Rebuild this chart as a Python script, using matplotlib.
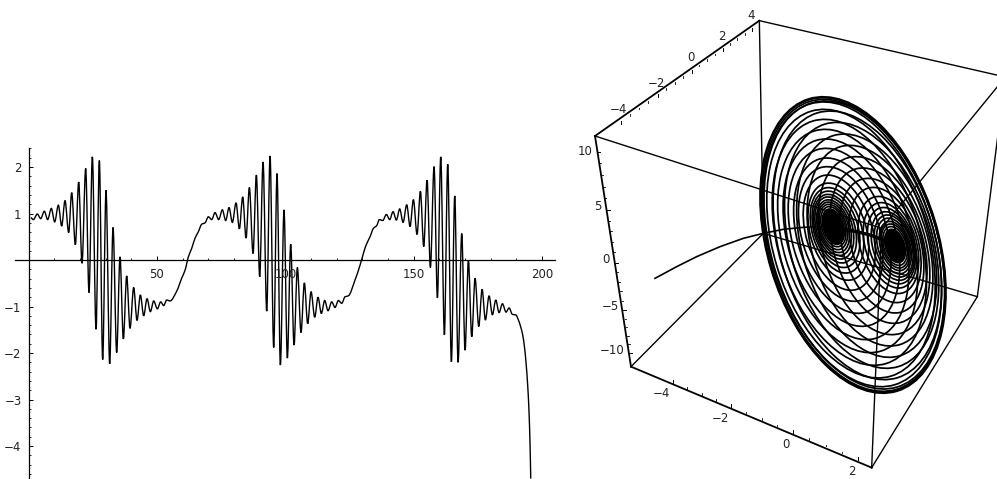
import numpy as np
import matplotlib
matplotlib.use("Agg")
import matplotlib.pyplot as plt
from matplotlib.patches import Ellipse, PathPatch
from matplotlib.path import Path

# --------------------------
# Left panel: time series, turning points
# --------------------------
t_vals = [0.84, 1.88, 3.44, 4.74, 6.17, 7.46, 8.89, 10.19, 11.62, 12.92, 14.21, 15.64, 16.81, 18.24, 19.54,
          20.83, 22.26, 23.56, 24.86, 26.29, 27.58, 28.88, 30.18, 31.61, 32.91, 34.33, 35.63, 36.93, 38.23,
          39.52, 40.95, 42.25, 43.55, 44.85, 46.15, 47.45, 48.75, 50.17, 51.47, 52.64, 53.80, 55.10, 57.70,
          59.65, 60.95, 62.25, 63.54, 64.84, 66.14, 67.44, 68.73, 70.03, 71.33, 72.63, 74.06, 75.48, 76.78,
          78.08, 79.38, 80.81, 82.10, 83.40, 84.70, 86.00, 87.43, 88.72, 90.02, 91.32, 92.75, 94.05, 95.47,
          96.77, 98.07, 99.49, 100.79, 102.09, 103.39, 104.69, 106.11, 107.41, 108.71, 110.01, 111.44, 112.73,
          114.03, 115.33, 116.63, 118.06, 119.35, 120.65, 121.95, 123.25, 124.55, 127.14, 129.09, 130.39,
          131.43, 132.98, 134.28, 135.58, 136.62, 137.92, 139.35, 140.64, 141.94, 143.24, 144.54, 145.84,
          147.27, 148.56, 149.86, 151.29, 152.59, 153.89, 155.18, 156.48, 157.91, 159.21, 160.51, 161.93,
          163.23, 164.66, 165.96, 167.26, 168.69, 169.98, 171.28, 172.58, 173.88, 175.31, 176.61, 177.90,
          179.33, 180.63, 181.93, 183.23, 184.52, 185.95, 187.12, 188.42, 189.72, 190.75, 192.31, 193.09,
          193.74, 194.39, 194.91, 195.30, 195.56]
y_vals = [0.91, 0.87, 0.99, 0.89, 1.05, 0.87, 1.11, 0.82, 1.18, 0.73, 1.28, 0.59, 1.45, 0.33, 1.68,
          -0.07, 1.97, -0.70, 2.22, -1.49, 2.14, -2.14, 1.50, -2.23, 0.70, -1.99, 0.07, -1.70, -0.34,
          -1.47, -0.59, -1.30, -0.75, -1.20, -0.83, -1.11, -0.88, -1.05, -0.90, -0.98, -0.86, -0.88, -0.67,
          -0.39, -0.22, 0.07, 0.25, 0.47, 0.61, 0.77, 0.80, 0.93, 0.87, 1.02, 0.87, 1.08, 0.85,
          1.13, 0.81, 1.23, 0.67, 1.36, 0.47, 1.56, 0.14, 1.83, -0.36, 2.11, -1.10, 2.24, -1.88,
          1.86, -2.26, 1.08, -2.11, 0.34, -1.83, -0.16, -1.56, -0.49, -1.37, -0.68, -1.23, -0.80,
          -1.15, -0.87, -1.09, -0.90, -1.02, -0.87, -0.93, -0.79, -0.77, -0.43, -0.11, 0.14,
          0.32, 0.50, 0.68, 0.74, 0.87, 0.85, 0.98, 0.87, 1.04, 0.86, 1.10, 0.81,
          1.19, 0.72, 1.30, 0.55, 1.48, 0.29, 1.72, -0.16, 2.01, -0.81, 2.22, -1.61,
          2.06, -2.19, 1.38, -2.20, 0.57, -1.94, -0.01, -1.65, -0.39, -1.43, -0.63, -1.29,
          -0.77, -1.18, -0.86, -1.13, -0.94, -1.12, -1.03, -1.17, -1.18, -1.29, -1.58, -1.86,
          -2.22, -2.72, -3.30, -4.01, -4.70]

x_major = [50, 100, 150, 200]
x_minor = [10, 20, 30, 40, 60, 70, 80, 90, 110, 120, 130, 140, 160, 170, 180, 190]
y_major = [-4, -3, -2, -1, 1, 2]

# --------------------------
# Right panel: projected box, in picture-plane units (y runs downward)
# --------------------------
axis_edges = [[(75, 408), (568, 62)], [(75, 408), (183, 1100)], [(183, 1100), (905, 1403)]]
box_edges = [
    [(568, 62), (1306, 231)], [(1306, 231), (935, 685)], [(935, 685), (75, 408)],
    [(183, 1100), (580, 700)], [(580, 700), (1222, 890)], [(1222, 890), (905, 1403)],
    [(568, 62), (580, 700)], [(1306, 231), (1222, 890)], [(935, 685), (905, 1403)],
]

y_ticks = [(152, 362), (263, 283), (365, 210), (458, 145), (546, 85)]
y_labels = ["\u22124", "\u22122", "0", "2", "4"]
y_label_pos = [(145, 328), (258, 250), (362, 173), (457, 110), (543, 47)]

z_ticks = [(82, 455), (110, 630), (135, 788), (160, 930), (178, 1058)]
z_labels = ["10", "5", "0", "\u22125", "\u221210"]
z_label_pos = [(45, 455), (83, 620), (108, 777), (120, 918), (127, 1050)]

x_ticks = [(308, 1148), (483, 1220), (668, 1298), (865, 1380)]
x_labels = ["\u22124", "\u22122", "0", "2"]
x_label_pos = [(273, 1180), (452, 1255), (648, 1332), (847, 1415)]

# the two black eyes of the spiral
eye_a = [55, 52]
eye_cx = [790, 975]
eye_cy = [680, 738]

# rings around the left eye, then the right eye, then the outer band
ring_a_left = [62, 70, 78, 86, 96, 106, 118, 132, 150, 178, 208, 240, 275, 310, 345, 380, 415, 440]
ring_cx_left = [790, 790, 791, 792, 793, 795, 798, 801, 805, 808, 812, 817, 822, 828, 833, 838, 843, 847]
ring_cy_left = [680, 681, 682, 683, 684, 686, 688, 691, 695, 698, 702, 707, 712, 718, 723, 727, 731, 733]

ring_a_right = [60, 68, 76, 86, 96, 106, 118, 132, 150, 178, 208, 240, 275, 310, 345, 380, 415, 445]
ring_cx_right = [975, 975, 974, 972, 971, 968, 964, 960, 955, 945, 935, 925, 912, 900, 890, 875, 862, 853]
ring_cy_right = [738, 738, 738, 738, 738, 738, 737, 736, 735, 735, 737, 737, 737, 737, 737, 736, 736, 735]

ring_a_outer = [458, 455, 451]
ring_cx_outer = [849, 849, 850]
ring_cy_outer = [735, 735, 736]

disc_ratio = 0.56
disc_angle = 73.2

transient_x = [255, 320, 380, 450, 520, 580, 640, 700, 745, 790]
transient_y = [835, 800, 770, 740, 715, 700, 688, 682, 680, 680]
bridge_x = [790, 830, 860, 900, 940, 975]
bridge_y = [680, 690, 695, 705, 720, 738]

TEXT = "#222222"
FS = 8.5


def smooth_path(xs, ys):
    # bezier through the read points, flat at every turning point
    xs = np.array(xs)
    ys = np.array(ys)
    h = np.diff(xs)
    d = np.diff(ys) / h
    m = np.zeros(len(xs))
    for i in range(1, len(xs) - 1):
        if d[i - 1] * d[i] > 0:
            m[i] = 2 * d[i - 1] * d[i] / (d[i - 1] + d[i])
    m[-1] = d[-1]
    verts = [(xs[0], ys[0])]
    codes = [Path.MOVETO]
    for i in range(len(h)):
        verts.append((xs[i] + h[i] / 3, ys[i] + m[i] * h[i] / 3))
        verts.append((xs[i + 1] - h[i] / 3, ys[i + 1] - m[i + 1] * h[i] / 3))
        verts.append((xs[i + 1], ys[i + 1]))
        codes += [Path.CURVE4, Path.CURVE4, Path.CURVE4]
    return Path(verts, codes)


fig = plt.figure(figsize=(9.97, 4.79), dpi=100)

# --------------------------
# Left panel
# --------------------------
ax = fig.add_axes([15 / 997, 0, 540 / 997, 331 / 479])
ax.add_patch(PathPatch(smooth_path(t_vals, y_vals), fill=False, edgecolor="black", lw=1.0))
ax.set_xlim(-5.26, 205.0)
ax.set_ylim(-4.71, 2.41)
ax.patch.set_alpha(0)

ax.spines["left"].set_position(("data", 0))
ax.spines["bottom"].set_position(("data", 0))
ax.spines["top"].set_visible(False)
ax.spines["right"].set_visible(False)
ax.spines["left"].set_linewidth(0.9)
ax.spines["bottom"].set_linewidth(0.9)

ax.set_xticks(x_major)
ax.set_xticks(x_minor, minor=True)
ax.set_yticks(y_major)
ax.set_yticks(np.arange(-4.6, 2.5, 0.2), minor=True)
ax.tick_params(axis="both", which="major", direction="in", length=3, width=0.7, labelsize=FS, labelcolor=TEXT)
ax.tick_params(axis="both", which="minor", direction="in", length=1.7, width=0.6)
ax.tick_params(axis="x", which="major", pad=6)
ax.tick_params(axis="y", which="major", pad=5)

# --------------------------
# Right panel
# --------------------------
ax3 = fig.add_axes([570 / 997, 0, 427 / 997, 1])
ax3.set_xlim(0, 1281)
ax3.set_ylim(1437, 0)
ax3.axis("off")

for p, q in box_edges:
    ax3.plot([p[0], q[0]], [p[1], q[1]], color="black", lw=1.0)
for p, q in axis_edges:
    ax3.plot([p[0], q[0]], [p[1], q[1]], color="black", lw=1.3)


def draw_ticks(ticks, direction, n_minor):
    # major ticks with minor ones spaced evenly between them
    for tx, ty in ticks:
        ax3.plot([tx, tx + direction[0]], [ty, ty + direction[1]], color="black", lw=0.7)
    for (x0, y0), (x1, y1) in zip(ticks[:-1], ticks[1:]):
        for f in np.linspace(0, 1, n_minor + 2)[1:-1]:
            mx, my = x0 + (x1 - x0) * f, y0 + (y1 - y0) * f
            ax3.plot([mx, mx + direction[0] * 0.55], [my, my + direction[1] * 0.55], color="black", lw=0.6)


draw_ticks(y_ticks, (0, 9), 3)
draw_ticks(z_ticks, (9, 0), 4)
draw_ticks(x_ticks, (0, -9), 3)

for labels, spots in [(y_labels, y_label_pos), (z_labels, z_label_pos), (x_labels, x_label_pos)]:
    for s, (lx, ly) in zip(labels, spots):
        ax3.text(lx, ly, s, ha="center", va="center", fontsize=FS, color=TEXT)

for a, cx, cy in zip(eye_a, eye_cx, eye_cy):
    ax3.add_patch(Ellipse((cx, cy), 2 * a, 2 * a * disc_ratio, angle=disc_angle, facecolor="black", edgecolor="black"))

for aa, cxs, cys in [(ring_a_left, ring_cx_left, ring_cy_left),
                     (ring_a_right, ring_cx_right, ring_cy_right),
                     (ring_a_outer, ring_cx_outer, ring_cy_outer)]:
    for a, cx, cy in zip(aa, cxs, cys):
        ax3.add_patch(Ellipse((cx, cy), 2 * a, 2 * a * disc_ratio, angle=disc_angle,
                              fill=False, edgecolor="black", lw=1.25))

ax3.plot(transient_x, transient_y, color="black", lw=1.2)
ax3.plot(bridge_x, bridge_y, color="black", lw=2.4)

fig.savefig("out.png", dpi=100)
